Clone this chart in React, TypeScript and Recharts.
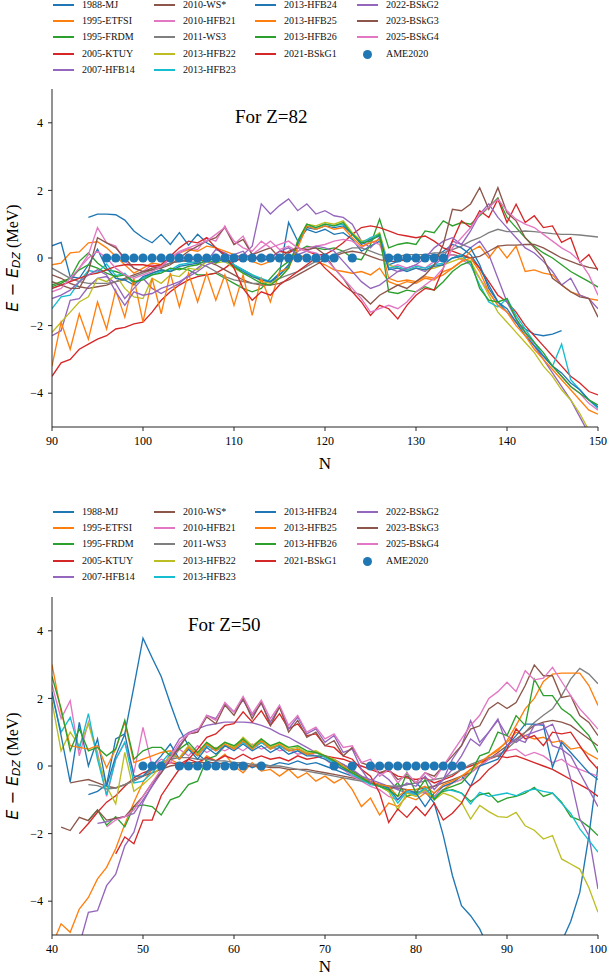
import React from 'react';
import { LineChart, Line, XAxis, YAxis } from 'recharts';

// matplotlib tab10 cycle, one colour per model in plotting order
const MODEL_COLORS = [
  '#1f77b4', '#ff7f0e', '#2ca02c', '#d62728', '#9467bd',
  '#8c564b', '#e377c2', '#7f7f7f', '#bcbd22', '#17becf',
  '#1f77b4', '#ff7f0e', '#2ca02c', '#d62728', '#9467bd',
  '#8c564b', '#e377c2',
];
const MODEL_NAMES = [
  '1988-MJ', '1995-ETFSI', '1995-FRDM', '2005-KTUY', '2007-HFB14',
  '2010-WS*', '2010-HFB21', '2011-WS3', '2013-HFB22', '2013-HFB23',
  '2013-HFB24', '2013-HFB25', '2013-HFB26', '2021-BSkG1', '2022-BSkG2',
  '2023-BSkG3', '2025-BSkG4',
];
const AME_COLOR = '#1f77b4';

// ---------- Z = 82 ----------
const n82 = [
  90, 91, 92, 93, 94, 95, 96, 97, 98, 99,
  100, 101, 102, 103, 104, 105, 106, 107, 108, 109,
  110, 111, 112, 113, 114, 115, 116, 117, 118, 119,
  120, 121, 122, 123, 124, 125, 126, 127, 128, 129,
  130, 131, 132, 133, 134, 135, 136, 137, 138, 139,
  140, 141, 142, 143, 144, 145, 146, 147, 148, 149,
  150,
];
const mj82 = [
  null, null, null, null, 1.2, 1.3, 1.3, 1.28, 1.12, 0.8,
  0.6, 0.45, 0.7, 0.4, 0.75, 0.38, 0.7, 0.45, 0.3, 0.05,
  -0.2, -0.35, -0.5, -0.65, -0.7, -0.45, 1.05, 0.5, 0.85, 0.75,
  0.85, 0.7, 0.75, 0.55, 0.2, 0.35, 0.5, -0.2, -0.1, 0.0,
  -0.05, 0.1, 0.05, 0.2, 0.4, 0.3, 0.1, -0.3, -0.8, -1.3,
  -1.6, -1.9, -2.1, -2.25, -2.3, -2.25, -2.15, null, null, null,
  null,
];
const etfsi82 = [
  -0.2, -0.15, 0.15, 0.18, 0.45, 0.48, 0.3, 0.05, -0.2, -0.45,
  -0.3, -0.15, -0.2, 0.05, 0.15, 0.25, 0.2, 0.35, 0.3, 0.2,
  0.1, 0.0, -0.1, -0.2, -0.1, 0.05, -0.05, 0.1, 0.0, -0.1,
  -0.2, -0.35, -0.4, -0.45, -0.4, -0.5, -0.3, -0.7, -0.8, -0.7,
  -0.75, -0.6, -0.65, -0.4, -0.3, -0.1, 0.2, 0.35, 0.0, 0.35,
  0.0, 0.35, -0.4, -0.35, -0.45, -0.5, -0.8, -1.0, -1.1, -1.2,
  -1.25,
];
const frdm82 = [
  -0.8, -0.7, -0.6, -0.1, 0.15, -0.15, -0.35, -0.4, -0.5, -0.75,
  -0.6, -0.45, -0.35, -0.4, -0.3, -0.35, -0.5, -0.5, -0.45, -0.6,
  -0.75, -0.9, -1.0, -0.9, -0.6, -0.3, -0.1, 0.2, 0.35, 0.3,
  0.25, 0.3, 0.2, 0.0, -0.05, 0.4, 1.15, 0.3, 0.4, 0.45,
  0.4, 0.8, 0.75, 1.1, 0.95, 1.05, 1.0, 1.25, 1.5, 1.78,
  1.2, 0.9, 0.6, 0.35, 0.15, 0.0, -0.2, -0.4, -0.55, -0.7,
  -0.86,
];
const ktuy82 = [
  -3.5, -3.1, -3.0, -2.7, -2.55, -2.4, -2.3, -2.1, -2.05, -1.95,
  -1.9, -1.6, -1.25, -1.0, -0.8, -0.65, -0.55, -0.5, -0.45, -0.3,
  -0.1, 0.0, 0.1, -0.1, 0.0, 0.2, 0.15, 0.3, 0.2, 0.1,
  0.1, 0.25, 0.45, 0.7, 0.9, 0.95, 0.9, 0.8, 0.7, 0.65,
  0.6, 0.65, 0.5, 0.3, 0.2, 0.1, 0.0, -0.3, -0.7, -1.1,
  -1.3, -1.6, -2.0, -2.3, -2.6, -2.9, -3.2, -3.5, -3.7, -3.95,
  -4.05,
];
const hfb14_82 = [
  -2.3, -2.15, -1.25, -1.2, -0.85, -0.6, -0.55, -0.75, -1.2, -0.9,
  -0.6, -0.9, -1.05, -0.9, -0.75, -0.5, -0.3, -0.1, 0.25, 0.15,
  0.0, 0.1, 0.35, 1.6, 1.3, 1.55, 1.75, 1.4, 1.6, 1.3,
  1.4, 1.25, 1.2, 1.0, 0.5, 0.3, 0.6, -0.3, -0.4, -0.35,
  -0.3, -0.4, -0.2, 0.0, 0.5, 0.4, 0.3, 0.5, 0.1, -0.6,
  -1.3, -1.8, -2.2, -2.6, -3.0, -3.4, -3.8, -4.2, -4.7, -5.2,
  -5.6,
];
const wsStar82 = [
  -0.5, -0.6, -0.75, -0.85, -0.9, -0.85, -0.8, -0.7, -0.6, -0.5,
  -0.4, -0.3, -0.25, -0.15, -0.1, -0.05, -0.05, -0.1, -0.2, -0.35,
  -0.5, -0.65, -0.75, -0.8, -0.8, -0.75, -0.65, -0.5, -0.35, -0.2,
  -0.05, 0.05, 0.15, 0.2, 0.15, 0.05, -0.05, -0.1, -0.1, -0.05,
  0.0, 0.0, 0.05, 0.05, 0.1, 0.05, 0.0, 0.05, 0.2, 0.35,
  0.38, 0.38, 0.4, 0.4, 0.3, 0.15, 0.0, -0.1, -0.2, -0.28,
  -0.32,
];
const hfb21_82 = [
  -0.9, -0.8, -0.7, -0.3, 0.1, 0.9, 0.45, 0.35, -0.1, -0.3,
  -0.4, -0.2, -0.3, 0.0, 0.15, 0.3, 0.25, 0.6, 0.5, 0.95,
  0.4, 0.65, 0.1, 0.3, 0.5, 0.25, 0.35, 0.2, 0.3, 0.35,
  0.4, 0.5, 0.55, 0.5, 0.3, 0.5, 0.4, -0.3, -0.2, -0.3,
  -0.2, -0.3, -0.1, 0.0, 0.1, -0.05, -0.2, -0.6, -1.0, -1.4,
  -1.6, -1.9, -2.2, -2.6, -2.9, -3.2, -3.5, -3.8, -4.0, -4.3,
  -4.5,
];
const ws3_82 = [
  -0.3, -0.45, -0.6, -0.7, -0.75, -0.75, -0.75, -0.7, -0.65, -0.55,
  -0.45, -0.35, -0.25, -0.15, -0.1, -0.1, -0.15, -0.25, -0.4, -0.55,
  -0.65, -0.7, -0.75, -0.75, -0.7, -0.6, -0.5, -0.4, -0.25, -0.1,
  0.0, 0.1, 0.2, 0.3, 0.3, 0.2, 0.1, 0.05, 0.05, 0.1,
  0.1, 0.1, 0.15, 0.15, 0.25, 0.35, 0.5, 0.6, 0.75, 0.85,
  0.78, 0.78, 0.8, 0.78, 0.75, 0.72, 0.7, 0.7, 0.68, 0.65,
  0.62,
];
const hfb22_82 = [
  -2.2, -1.9, -1.6, -1.3, -1.15, -0.6, -0.7, -0.5, -0.9, -1.15,
  -1.2, -0.6, -0.75, -0.5, -0.55, -0.3, -0.35, -0.1, -0.15, -0.1,
  -0.3, -0.45, -0.5, -0.7, -0.75, -0.6, -0.3, 0.5, 1.0, 0.95,
  1.05, 1.0, 1.1, 0.75, 0.5, 0.55, 0.75, -0.2, -0.3, -0.35,
  -0.3, -0.35, -0.3, -0.2, -0.1, 0.0, -0.1, -0.6, -1.1, -1.6,
  -1.9, -2.2, -2.5, -2.8, -3.2, -3.5, -3.9, -4.2, -4.6, -5.1,
  -5.5,
];
const hfb23_82 = [
  -1.5, -1.15, -1.1, -0.7, -0.37, -0.42, -0.18, -0.52, -0.45, -0.75,
  -0.6, -0.5, -0.4, -0.35, -0.2, -0.15, -0.1, 0.05, -0.05, 0.0,
  -0.2, -0.35, -0.5, -0.6, -0.7, -0.5, -0.25, 0.45, 0.95, 0.9,
  1.0, 0.95, 1.0, 0.7, 0.45, 0.6, 0.7, -0.3, -0.25, -0.35,
  -0.25, -0.3, -0.2, -0.15, 0.0, 0.1, -0.2, -0.8, -1.3, -1.45,
  -1.2, -1.7, -2.1, -2.5, -2.9, -3.2, -2.55, -3.6, -3.9, -4.2,
  -4.45,
];
const hfb24_82 = [
  0.36, 0.46, -0.55, -0.6, -0.2, 0.26, -0.3, -0.6, -0.65, -0.8,
  -0.55, -0.45, -0.35, -0.4, -0.25, -0.2, -0.15, -0.1, 0.0, -0.05,
  -0.25, -0.4, -0.55, -0.65, -0.7, -0.5, -0.2, 0.4, 0.9, 0.85,
  0.95, 0.9, 0.95, 0.7, 0.4, 0.55, 0.65, -0.35, -0.3, -0.4,
  -0.3, -0.35, -0.25, -0.2, 0.0, 0.05, 0.3, -0.2, -0.9, -1.3,
  -1.5, -1.9, -2.3, -2.6, -2.9, -3.2, -3.4, -3.7, -3.9, -4.2,
  -4.4,
];
const hfb25_82 = [
  -3.2, -1.9, -2.7, -1.65, -2.4, -1.3, -2.1, -0.95, -1.75, -0.6,
  -1.9, -0.6, -1.65, -0.45, -1.45, -0.45, -1.3, -0.45, -1.25, -0.5,
  -1.4, -0.5, -1.7, -0.6, -1.3, -0.4, -0.3, 0.3, 0.95, 0.85,
  0.95, 0.85, 0.9, 0.6, 0.35, 0.45, 0.55, -0.6, -0.7, -0.65,
  -0.7, -0.55, -0.6, -0.5, -0.3, -0.1, 0.0, -0.4, -1.0, -1.4,
  -1.6, -2.0, -2.3, -2.7, -3.0, -3.3, -3.6, -3.9, -4.2, -4.5,
  -4.62,
];
const hfb26_82 = [
  -0.85, -0.75, -0.6, -0.35, -0.2, -0.3, -0.45, -0.55, -0.5, -0.7,
  -0.65, -0.5, -0.45, -0.3, -0.35, -0.25, -0.2, -0.05, -0.15, 0.0,
  -0.25, -0.45, -0.6, -0.75, -0.8, -0.6, -0.3, 0.5, 1.0, 0.9,
  1.0, 0.95, 1.05, 0.7, 0.45, 0.5, 0.7, -1.0, -1.05, -0.95,
  -1.0, -0.85, -0.95, -0.7, -0.4, -0.2, -0.1, -0.9, -1.25, -1.3,
  -1.2, -1.8, -2.2, -2.5, -2.8, -3.2, -3.5, -3.8, -4.0, -4.2,
  -4.35,
];
const bskg1_82 = [
  -0.9, -0.8, -0.7, -0.6, -0.5, -0.45, -0.35, -0.25, -0.2, -0.2,
  -0.2, -0.25, -0.2, 0.05, 0.3, 0.5, 0.45, 0.6, 0.3, 0.1,
  -0.3, -0.9, -1.25, -1.0, -1.1, -0.8, -0.6, -0.4, -0.2, 0.0,
  -0.3, -0.55, -0.8, -1.0, -1.3, -1.7, -1.4, -1.5, -1.8, -1.4,
  -1.1, -0.9, -0.95, -0.3, 0.5, 1.1, 0.9, 1.4, 1.2, 1.74,
  1.05, 1.59, 1.05, 1.25, 0.9, 0.95, 0.46, 0.6, -0.13, 0.1,
  -0.37,
];
const bskg2_82 = [
  -1.2, -1.1, -0.95, -0.7, -0.5, -0.35, -0.5, -1.0, -1.4, -1.0,
  -1.1, -1.05, -0.9, -0.8, -0.7, -0.55, -0.4, -0.2, -0.1, 0.05,
  0.1, 0.2, -0.1, 0.1, 0.0, 0.2, 0.3, 0.1, 0.2, 0.35,
  0.3, 0.2, -0.1, -0.4, -0.7, -0.9, -0.8, -0.6, -0.4, -0.3,
  -0.2, 0.0, 0.3, 0.5, 0.6, 0.4, 0.8, 1.3, 1.6, 1.2,
  0.9, 0.6, 0.3, 0.15, -0.1, -0.4, -0.8, -0.6, -1.1, -1.2,
  -1.5,
];
const bskg3_82 = [
  -0.7, -0.8, -0.9, -0.9, -0.4, 0.6, 0.45, 0.3, 0.0, -0.3,
  -0.4, -0.35, -0.3, -0.2, 0.0, 0.2, 0.35, 0.5, 0.6, 0.9,
  0.4, 0.55, 0.1, 0.2, 0.3, 0.0, 0.2, 0.3, 0.25, 0.3,
  0.1, -0.3, -0.6, -1.0, -1.1, -1.36, -1.1, -0.95, -0.8, -0.9,
  -0.7, -0.5, -0.2, 0.4, 1.44, 1.4, 1.6, 2.08, 1.44, 2.08,
  1.34, 1.1, 0.6, 0.3, 0.0, -0.6, -0.8, -1.0, -1.15, -1.2,
  -1.75,
];
const bskg4_82 = [
  -1.0, -0.9, -0.6, -0.3, 0.0, 0.2, 0.0, -0.3, -0.5, -0.6,
  -0.5, -0.4, -0.25, 0.0, 0.2, 0.3, 0.4, 0.5, 0.7, 0.9,
  0.5, 0.3, 0.2, 0.5, 0.3, 0.4, 0.5, 0.3, 0.2, 0.15,
  0.0, -0.3, -0.6, -0.9, -1.2, -1.6, -1.5, -1.4, -1.5, -1.3,
  -1.0, -0.8, -0.6, -0.3, 0.3, 0.6, 0.9, 1.3, 1.5, 1.74,
  1.4, 1.15, 1.0, 0.9, 0.7, 0.5, 0.3, 0.15, -0.1, -0.5,
  -1.1,
];
const ameN82 = [
  96, 97, 98, 99, 100, 101, 102, 103, 104, 105, 106, 107, 108, 109,
  110, 111, 112, 113, 114, 115, 116, 117, 118, 119, 120, 121, 123,
  127, 128, 129, 130, 131, 132, 133,
];
const ameE82 = [
  0, 0, 0, 0, 0, 0, 0, 0, 0, 0, 0, 0, 0, 0,
  0, 0, 0, 0, 0, 0, 0, 0, 0, 0, 0, 0, 0,
  0, 0, 0, 0, 0, 0, 0,
];

// ---------- Z = 50 ----------
const n50 = [
  40, 41, 42, 43, 44, 45, 46, 47, 48, 49,
  50, 51, 52, 53, 54, 55, 56, 57, 58, 59,
  60, 61, 62, 63, 64, 65, 66, 67, 68, 69,
  70, 71, 72, 73, 74, 75, 76, 77, 78, 79,
  80, 81, 82, 83, 84, 85, 86, 87, 88, 89,
  90, 91, 92, 93, 94, 95, 96, 97, 98, 99,
  100,
];
const mj50 = [
  null, null, null, null, -0.85, -0.75, -0.55, 0.8, 0.95, 2.35,
  3.78, 3.2, 2.65, 1.85, 1.1, 0.6, 0.35, 0.15, 0.05, 0.1,
  0.0, 0.1, -0.05, 0.05, 0.0, 0.1, 0.05, 0.15, 0.05, 0.1,
  0.0, -0.1, -0.2, -0.3, -0.4, -0.5, -0.55, -0.65, -0.6, -0.55,
  -0.5, -0.75, -1.1, -2.06, -3.24, -4.13, -4.43, -4.82, -5.4, null,
  null, null, null, null, null, null, -5.2, -4.6, -3.74, -2.06,
  0.0,
];
const etfsi50 = [
  -5.3, -4.67, -4.92, -4.23, -3.89, -3.34, -3.0, -2.45, -1.72, -1.07,
  -0.48, -0.1, 0.0, 0.2, 0.05, 0.1, 0.0, 0.3, 0.15, 0.35,
  0.0, -0.2, 0.1, -0.15, -0.1, -0.3, -0.1, -0.35, -0.2, -0.45,
  -0.3, -0.5, -0.35, -0.7, -1.2, -0.95, -1.45, -1.1, -1.2, -0.9,
  -1.0, -0.8, -0.95, -0.7, -0.5, -0.4, -0.1, 0.0, 0.3, 0.5,
  0.7, 1.0, 0.9, 0.8, 0.85, 0.7, 0.75, 0.5, 0.55, 0.35,
  0.2,
];
const frdm50 = [
  null, null, null, null, -1.6, -1.3, -1.75, -1.5, -1.8, -1.2,
  -1.15, -1.2, -1.45, -1.0, -0.9, -0.55, -0.45, 0.2, 0.3, 0.6,
  0.55, 0.75, 0.5, 0.7, 0.55, 0.6, 0.45, 0.5, 0.35, 0.3,
  0.3, 0.1, 0.05, -0.15, -0.3, -0.5, -0.6, -0.75, -0.5, -0.9,
  -0.8, -0.7, -0.9, -0.75, -0.7, -0.8, -1.05, -0.85, -0.8, -1.07,
  -0.95, -0.9, -0.8, -0.63, -0.9, -0.8, -1.07, -1.5, -1.6, -1.8,
  -2.06,
];
const ktuy50 = [
  null, null, null, -2.0, -1.7, -1.37, -1.07, -0.88, -0.6, -0.35,
  -0.2, -0.1, 0.0, 0.1, 0.05, 0.2, 0.1, 0.25, 0.15, 0.3,
  0.2, 0.35, 0.2, 0.3, 0.2, 0.25, 0.15, 0.3, 0.2, 0.25,
  0.3, 0.25, 0.2, 0.1, 0.0, -0.1, -0.2, -0.15, -0.3, -0.35,
  -0.4, -0.35, -0.5, -0.4, -0.3, -0.1, 0.0, 0.1, 0.2, 0.3,
  0.25, 0.3, 0.2, 0.1, 0.0, -0.1, -0.25, -0.4, -0.55, -0.7,
  -0.9,
];
const hfb14_50 = [
  null, null, null, -5.3, -4.33, -4.28, -3.54, -3.2, -2.36, -1.96,
  -1.07, -0.58, -0.09, 0.35, 0.8, 0.99, 1.1, 1.2, 1.25, 1.3,
  1.3, 1.3, 1.28, 1.2, 1.1, 0.95, 0.85, 0.7, 0.55, 0.4,
  0.3, 0.2, 0.05, -0.1, -0.3, -0.4, -0.5, -0.6, -0.7, -0.8,
  -0.75, -0.8, -0.6, -0.4, -0.1, 0.3, 0.8, 0.6, 1.0, 1.35,
  0.9, 0.7, 0.9, 1.0, 1.1, 1.24, 0.6, -0.38, -1.57, -2.06,
  -3.64,
];
const wsStar50 = [
  null, null, -0.5, -0.45, -0.4, -0.5, -0.6, -0.65, -0.55, -0.4,
  -0.3, -0.2, -0.1, 0.0, 0.05, 0.1, 0.1, 0.1, 0.1, 0.05,
  0.05, 0.0, 0.0, 0.0, -0.05, -0.05, -0.1, -0.1, -0.1, -0.15,
  -0.2, -0.25, -0.3, -0.35, -0.4, -0.5, -0.55, -0.6, -0.65, -0.7,
  -0.7, -0.65, -0.6, -0.5, -0.4, -0.3, -0.2, 0.0, 0.2, 0.4,
  0.6, 0.8, 1.0, 1.2, 1.3, 1.35, 1.3, 1.2, 1.0, 0.8,
  0.6,
];
const hfb21_50 = [
  2.4, 1.4, 1.93, 0.3, 1.3, 0.4, -0.9, 0.2, 0.7, -0.2,
  1.14, 0.0, 0.2, 0.1, 0.5, 0.3, 0.6, 0.4, 0.55, 0.45,
  0.6, 0.45, 0.65, 0.5, 0.6, 0.45, 0.5, 0.35, 0.4, 0.3,
  0.2, 0.0, -0.1, -0.3, -0.45, -0.6, -0.7, -0.9, -1.0, -0.8,
  -0.85, -0.75, -0.9, -0.6, -0.5, -0.4, -0.2, 0.0, 0.2, 0.35,
  0.45, 0.5, 0.3, 0.4, 0.3, 0.1, 0.2, 0.0, -0.1, -0.2,
  -0.3,
];
const ws3_50 = [
  null, null, null, null, -0.55, -0.58, -0.68, -0.65, -0.55, -0.45,
  -0.3, -0.1, 0.1, 0.2, 0.25, 0.25, 0.2, 0.2, 0.15, 0.15,
  0.1, 0.1, 0.05, 0.05, 0.0, 0.0, -0.05, -0.1, -0.15, -0.2,
  -0.25, -0.3, -0.35, -0.4, -0.45, -0.5, -0.55, -0.6, -0.6, -0.55,
  -0.5, -0.45, -0.4, -0.35, -0.25, -0.1, 0.05, 0.15, 0.25, 0.3,
  0.5, 0.75, 1.0, 1.29, 1.5, 1.69, 2.08, 2.57, 2.89, 2.72,
  2.43,
];
const hfb22_50 = [
  1.9, 0.45, 1.0, 0.6, 1.25, 0.3, -0.6, -1.12, 0.4, -0.75,
  -0.55, -0.3, 0.0, 0.3, 0.25, 0.6, 0.35, 0.7, 0.5, 0.7,
  0.55, 0.85, 0.6, 0.8, 0.55, 0.7, 0.5, 0.55, 0.4, 0.45,
  0.3, 0.2, 0.0, -0.2, -0.4, -0.5, -0.6, -0.75, -1.3, -0.8,
  -0.9, -0.7, -1.0, -0.8, -0.9, -1.07, -1.57, -1.17, -1.35, -1.5,
  -1.52, -1.37, -1.77, -1.9, -2.16, -2.06, -2.75, -2.9, -3.05, -3.6,
  -4.33,
];
const hfb23_50 = [
  2.1, 1.0, 1.44, 0.5, 1.55, 0.2, -0.85, 0.2, 0.7, -0.5,
  -0.45, -0.2, 0.1, 0.4, 0.2, 0.5, 0.3, 0.6, 0.45, 0.6,
  0.5, 0.7, 0.5, 0.7, 0.5, 0.6, 0.45, 0.5, 0.35, 0.4,
  0.25, 0.1, -0.05, -0.25, -0.4, -0.55, -0.6, -0.7, -1.1, -0.75,
  -0.85, -0.65, -0.95, -0.7, -0.73, -0.8, -1.12, -0.78, -0.9, -0.85,
  -0.8, -0.88, -0.75, -0.68, -0.75, -0.8, -1.1, -1.4, -1.86, -2.2,
  -2.55,
];
const hfb24_50 = [
  2.2, 0.9, -0.48, 1.29, 0.0, 0.8, -0.6, 0.3, 0.95, -0.3,
  -0.3, 0.0, 0.3, 0.65, 0.2, 0.5, 0.2, 0.55, 0.35, 0.6,
  0.45, 0.65, 0.45, 0.6, 0.4, 0.55, 0.35, 0.45, 0.3, 0.3,
  0.2, 0.05, -0.1, -0.2, -0.35, -0.5, -0.55, -0.65, -1.0, -0.7,
  -0.8, -1.2, -0.8, -0.6, -0.5, -0.3, -0.6, 0.0, 0.1, 0.2,
  0.6, 0.9, 1.24, 1.24, 1.2, -0.04, 0.7, 0.4, 0.1, -0.2,
  -0.4,
];
const hfb25_50 = [
  3.0, 1.6, 0.6, 0.55, 0.5, 0.6, -0.05, 0.5, 1.3, 0.1,
  0.2, 0.3, 0.4, 0.45, 0.2, 0.55, 0.3, 0.65, 0.45, 0.65,
  0.5, 0.75, 0.5, 0.75, 0.5, 0.65, 0.45, 0.5, 0.35, 0.4,
  0.3, 0.15, 0.0, -0.2, -0.35, -0.45, -0.55, -0.6, -0.9, -0.7,
  -0.7, -0.6, -0.8, -0.55, -0.45, -0.3, -0.1, 0.1, 0.3, 0.45,
  0.75, 1.2, 1.69, 2.0, 2.5, 2.72, 2.75, 2.75, 2.75, 2.38,
  1.79,
];
const hfb26_50 = [
  2.65, 1.7, 0.45, 1.1, 0.45, 0.55, 0.3, 0.5, 1.35, 0.2,
  0.45, 0.55, 0.55, 0.3, 0.5, 0.7, 0.4, 0.7, 0.5, 0.7,
  0.6, 0.8, 0.55, 0.8, 0.6, 0.7, 0.55, 0.6, 0.45, 0.4,
  0.3, 0.15, -0.05, -0.2, -0.35, -0.5, -0.6, -0.7, -0.9, -0.19,
  -0.8, -0.4, -1.0, -0.7, -0.6, -0.5, -0.2, 0.3, 0.4, 1.0,
  0.9, 1.49, 1.2, 2.57, 2.08, 2.08, 1.69, 1.5, 1.19, 0.9,
  0.4,
];
const bskg1_50 = [
  null, null, null, null, null, null, null, -2.6, -2.1, -2.3,
  -1.6, -1.6, -0.88, -0.48, -0.09, 0.2, 0.5, 0.85, 0.95, 1.2,
  1.25, 1.6, 1.3, 1.64, 1.2, 1.55, 1.1, 1.25, 0.9, 0.95,
  0.6, 0.55, 0.3, 0.2, -0.1, -0.3, -0.8, -1.67, -1.27, -1.52,
  -1.2, -1.47, -1.1, -1.6, -1.4, -1.1, -0.6, -0.4, -0.1, 0.1,
  0.5, 1.1, 0.8, 0.9, 0.6, 1.0, 0.95, 1.0, 0.6, 0.2,
  -0.1,
];
const bskg2_50 = [
  null, null, null, null, null, -1.7, -1.65, -1.55, -1.5, -1.4,
  -1.0, -0.6, -0.2, 0.2, 0.6, 0.95, 1.0, 1.5, 1.4, 1.85,
  1.6, 1.95, 1.5, 1.85, 1.3, 1.75, 1.1, 1.45, 0.95, 1.1,
  0.7, 0.9, 0.4, 0.5, -0.1, -0.5, -0.2, -0.4, -0.7, -0.5,
  -0.6, -0.3, -0.7, -0.4, 0.2, 0.6, 1.34, 0.7, 1.0, 1.39,
  0.6, 0.8, 0.7, 1.2, 1.25, 0.6, 0.5, 0.3, -0.2, -0.7,
  -1.2,
];
const bskg3_50 = [
  null, -1.81, -1.91, -1.52, -1.62, -1.3, -1.6, -1.55, -1.5, -1.2,
  -0.9, -0.5, -0.2, 0.2, 0.55, 0.95, 1.0, 1.45, 1.25, 1.8,
  1.5, 2.0, 1.4, 1.9, 1.2, 1.75, 1.0, 1.35, 0.85, 1.0,
  0.6, 0.75, 0.3, 0.55, 0.1, 0.0, -0.2, -0.1, -0.4, -0.3,
  -0.5, -0.2, -0.3, 0.0, 0.3, 0.6, 1.09, 1.19, 1.69, 1.88,
  1.7, 1.88, 2.38, 2.99, 2.67, 2.67, 2.03, 2.08, 1.49, 1.29,
  0.9,
];
const bskg4_50 = [
  null, null, null, null, null, null, -1.8, -1.6, -1.5, -1.3,
  -0.9, -0.5, -0.1, 0.25, 0.7, 0.95, 1.05, 1.5, 1.35, 1.88,
  1.6, 2.06, 1.55, 1.95, 1.4, 1.8, 1.2, 1.5, 1.0, 1.15,
  0.8, 0.95, 0.55, 0.6, 0.1, 0.2, -0.3, -0.1, -0.5, -0.2,
  -0.5, -0.2, -0.4, 0.0, 0.4, 0.8, 1.2, 1.5, 2.0, 2.2,
  2.48, 2.2, 2.82, 2.55, 2.6, 2.92, 2.5, 2.08, 1.69, 1.4,
  1.09,
];
const ameN50 = [
  50, 51, 52, 54, 55, 56, 57, 58, 59, 60, 61, 63,
  71, 73, 75, 76, 77, 78, 79, 80, 81, 82, 83, 84, 85,
];
const ameE50 = [
  0, 0, 0, 0, 0, 0, 0, 0, 0, 0, 0, 0,
  0, 0, 0, 0, 0, 0, 0, 0, 0, 0, 0, 0, 0,
];

const series82 = [
  mj82, etfsi82, frdm82, ktuy82, hfb14_82, wsStar82, hfb21_82, ws3_82, hfb22_82,
  hfb23_82, hfb24_82, hfb25_82, hfb26_82, bskg1_82, bskg2_82, bskg3_82, bskg4_82,
];
const series50 = [
  mj50, etfsi50, frdm50, ktuy50, hfb14_50, wsStar50, hfb21_50, ws3_50, hfb22_50,
  hfb23_50, hfb24_50, hfb25_50, hfb26_50, bskg1_50, bskg2_50, bskg3_50, bskg4_50,
];

const buildRows = (ns: number[], series: (number | null)[][], ameN: number[], ameE: number[]) =>
  ns.map((n, i) => {
    const row: Record<string, number | null> = { N: n };
    series.forEach((s, k) => {
      row[`m${k}`] = s[i];
    });
    const j = ameN.indexOf(n);
    row.ame = j >= 0 ? ameE[j] : null;
    return row;
  });

const rows82 = buildRows(n82, series82, ameN82, ameE82);
const rows50 = buildRows(n50, series50, ameN50, ameE50);

const SERIF = '"Liberation Serif", "Times New Roman", serif';
const AXIS = '#262626';

const fmtTick = (v: number) => (v < 0 ? `\u2212${Math.abs(v)}` : String(v));

const YLabel = (props: any) => {
  const vb = props.viewBox || { x: 0, y: 0, width: 52, height: 338 };
  const cy = vb.y + vb.height / 2;
  return (
    <text
      transform={`translate(12, ${cy}) rotate(-90)`}
      textAnchor="middle"
      dominantBaseline="central"
      fontSize={16}
      fill="#000"
    >
      <tspan fontFamily="DejaVu Sans" fontStyle="italic">E</tspan>
      <tspan fontFamily="DejaVu Sans">{' \u2212 '}</tspan>
      <tspan fontFamily="DejaVu Sans" fontStyle="italic">E</tspan>
      <tspan fontFamily="DejaVu Sans" fontStyle="italic" fontSize={11} dy={4}>DZ</tspan>
      <tspan fontFamily={SERIF} dy={-4}>{' (MeV)'}</tspan>
    </text>
  );
};

const Legend = ({ top }: { top: number }) => {
  const colX = [53, 154, 255, 357];
  const rowY = [0, 16.3, 32.6, 49.3, 65.6];
  const perCol = [5, 5, 4, 4];
  const entries = [...MODEL_NAMES.map((name, i) => ({ name, color: MODEL_COLORS[i], dot: false })),
    { name: 'AME2020', color: AME_COLOR, dot: true }];
  let idx = 0;
  const items: React.ReactNode[] = [];
  perCol.forEach((count, c) => {
    for (let r = 0; r < count; r++) {
      const e = entries[idx++];
      const y = top + rowY[r];
      items.push(
        <div key={e.name} style={{ position: 'absolute', left: colX[c], top: y - 7, height: 14, width: 100 }}>
          {e.dot ? (
            <div style={{ position: 'absolute', left: 6, top: 2.5, width: 9, height: 9, borderRadius: '50%', background: e.color }} />
          ) : (
            <div style={{ position: 'absolute', left: 0, top: 6, width: 21, height: 2, background: e.color }} />
          )}
          <span style={{ position: 'absolute', left: 29, top: 0, lineHeight: '14px', fontSize: 10, fontFamily: SERIF, color: '#111', whiteSpace: 'nowrap' }}>
            {e.name}
          </span>
        </div>
      );
    }
  });
  return <>{items}</>;
};

type PanelProps = {
  rows: Record<string, number | null>[];
  xDomain: [number, number];
  xTicks: number[];
  top: number;
  marginTop: number;
  height: number;
  labelOffset: number;
};

const Panel = ({ rows, xDomain, xTicks, top, marginTop, height, labelOffset }: PanelProps) => (
  <div style={{ position: 'absolute', left: 0, top }}>
    <LineChart
      width={609}
      height={height}
      data={rows}
      margin={{ top: marginTop, right: 11, left: 0, bottom: height - marginTop - 338 - 30 }}
    >
      <XAxis
        dataKey="N"
        type="number"
        domain={xDomain}
        ticks={xTicks}
        allowDataOverflow
        height={30}
        tickSize={4}
        tickMargin={5}
        stroke={AXIS}
        tick={{ fontSize: 12, fontFamily: SERIF, fill: '#000' }}
        label={{ value: 'N', position: 'bottom', offset: labelOffset, fontSize: 17, fontFamily: SERIF, fill: '#000' }}
      />
      <XAxis xAxisId="top" orientation="top" type="number" domain={xDomain} height={0} tick={false} tickLine={false} stroke={AXIS} />
      <YAxis
        type="number"
        domain={[-5, 5]}
        ticks={[-4, -2, 0, 2, 4]}
        allowDataOverflow
        width={52}
        tickSize={4}
        tickMargin={5}
        stroke={AXIS}
        tickFormatter={fmtTick}
        tick={{ fontSize: 12, fontFamily: SERIF, fill: '#000' }}
        label={{ content: (p: any) => <YLabel {...p} /> }}
      />
      <YAxis yAxisId="right" orientation="right" type="number" domain={[-5, 5]} width={0} tick={false} tickLine={false} stroke={AXIS} />
      {MODEL_NAMES.map((name, k) => (
        <Line
          key={name}
          name={name}
          dataKey={`m${k}`}
          stroke={MODEL_COLORS[k]}
          strokeWidth={1.35}
          dot={false}
          isAnimationActive={false}
        />
      ))}
      <Line
        name="AME2020"
        dataKey="ame"
        stroke="none"
        dot={{ r: 4.6, fill: AME_COLOR, stroke: 'none' }}
        isAnimationActive={false}
      />
    </LineChart>
  </div>
);

const titleStyle: React.CSSProperties = {
  position: 'absolute',
  fontFamily: SERIF,
  fontSize: 19,
  lineHeight: '20px',
  color: '#000',
  whiteSpace: 'nowrap',
};

export default function App() {
  return (
    <div style={{ position: 'absolute', left: 0, top: 0, width: 609, height: 979, background: '#fff', overflow: 'hidden' }}>
      <Panel rows={rows82} xDomain={[90, 150]} xTicks={[90, 100, 110, 120, 130, 140, 150]} top={0} marginTop={89} height={480} labelOffset={0} />
      <Panel rows={rows50} xDomain={[40, 100]} xTicks={[40, 50, 60, 70, 80, 90, 100]} top={490} marginTop={107} height={489} labelOffset={-5} />
      <Legend top={4.7} />
      <Legend top={511.7} />
      <div style={{ ...titleStyle, left: 235, top: 107 }}>For Z=82</div>
      <div style={{ ...titleStyle, left: 188, top: 615 }}>For Z=50</div>
    </div>
  );
}
